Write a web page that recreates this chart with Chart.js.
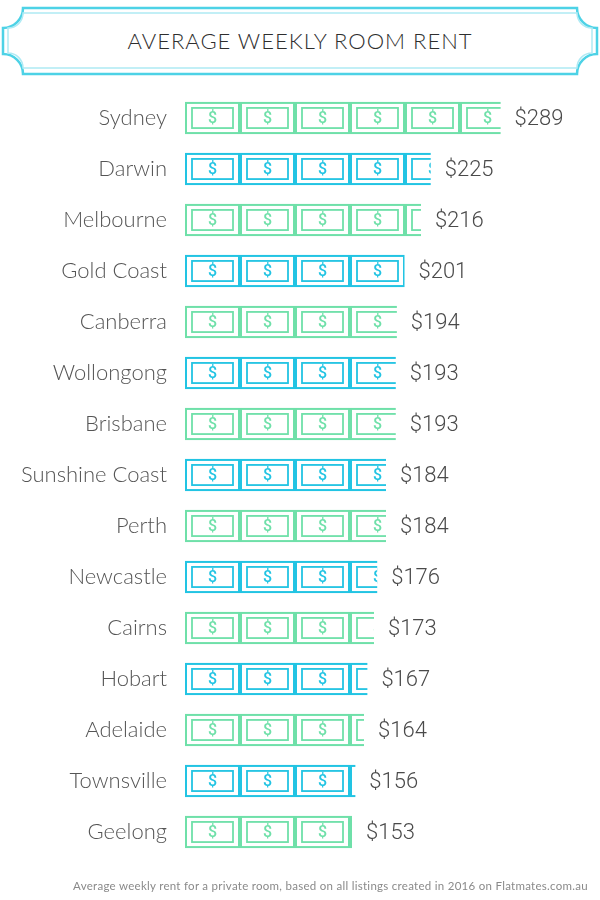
<!DOCTYPE html>
<html>
<head>
<meta charset="utf-8">
<script src="https://cdn.jsdelivr.net/npm/chart.js@4"></script>
<style>
  body { margin: 0; background: #fff; }
  #wrap { position: relative; width: 600px; height: 900px; }
  #frame { position: absolute; left: 0; top: 0; }
  #titulo {
    position: absolute; left: 0; top: 27px; width: 600px; text-align: center;
    font-family: Lato, sans-serif; font-weight: 300; font-size: 22px;
    letter-spacing: 1px; color: #2e2e2e;
  }
  #pie {
    position: absolute; right: 12px; top: 879px;
    font-family: Lato, sans-serif; font-size: 11.5px; color: #8a8a8a; letter-spacing: 0.28px;
  }
  #grafica { position: absolute; left: 0; top: 0; }
</style>
</head>
<body>
<div id="wrap">
  <svg id="frame" width="600" height="80">
    <path d="M23,8 H577 A20,20 0 0 0 597,28 V54 A20,20 0 0 0 577,74 H23 A20,20 0 0 0 3,54 V28 A20,20 0 0 0 23,8 Z"
          fill="none" stroke="#4dd2e6" stroke-width="2.5"/>
    <path d="M23,13 H577 A15,15 0 0 0 592,28 V53 A15,15 0 0 0 577,68 H23 A15,15 0 0 0 8,53 V28 A15,15 0 0 0 23,13 Z"
          fill="none" stroke="#aeeaf4" stroke-width="1.5"/>
  </svg>
  <div id="titulo">AVERAGE WEEKLY ROOM RENT</div>
  <div style="position:absolute;left:0;top:0;width:600px;height:900px;">
    <canvas id="grafica"></canvas>
  </div>
  <div id="pie">Average weekly rent for a private room, based on all listings created in 2016 on Flatmates.com.au</div>
</div>

<script>
// Datos
const ciudades = ['Sydney', 'Darwin', 'Melbourne', 'Gold Coast', 'Canberra', 'Wollongong', 'Brisbane',
  'Sunshine Coast', 'Perth', 'Newcastle', 'Cairns', 'Hobart', 'Adelaide', 'Townsville', 'Geelong'];
const rentas = [289, 225, 216, 201, 194, 193, 193, 184, 184, 176, 173, 167, 164, 156, 153];

const VERDE = '#6fe0a9';
const AZUL = '#22c4e3';
const ANCHO_BILLETE = 55;

// Dibuja un billete en la posicion dada
function dibujarBillete(ctx, x, y, w, h, color) {
  ctx.strokeStyle = color;
  ctx.lineWidth = 2;
  ctx.strokeRect(x + 1, y + 1, w - 2, h - 2);
  ctx.lineWidth = 1.8;
  ctx.strokeRect(x + 7, y + 6, w - 14, h - 12);
  ctx.fillStyle = color;
  ctx.font = '500 16px Roboto';
  ctx.textAlign = 'center';
  ctx.textBaseline = 'middle';
  ctx.fillText('$', x + w / 2, y + h / 2 + 1);
}

const pluginBilletes = {
  id: 'billetes',
  afterDatasetsDraw(chart) {
    const ctx = chart.ctx;
    chart.getDatasetMeta(0).data.forEach((barra, i) => {
      const { x, y, base, height } = barra.getProps(['x', 'y', 'base', 'height'], true);
      const color = i % 2 === 0 ? VERDE : AZUL;
      const arriba = y - height / 2;
      ctx.save();
      ctx.beginPath();
      ctx.rect(base, arriba - 2, x - base, height + 4);
      ctx.clip();
      for (let bx = base; bx < x; bx += ANCHO_BILLETE) {
        dibujarBillete(ctx, bx, arriba, ANCHO_BILLETE, height, color);
      }
      ctx.restore();

      // etiqueta de valor
      ctx.save();
      ctx.fillStyle = '#4a4a4a';
      ctx.font = '300 22px Roboto';
      ctx.textAlign = 'left';
      ctx.textBaseline = 'middle';
      ctx.fillText('$' + rentas[i], x + 14, y + 1);
      ctx.restore();
    });
  }
};

const ctx = document.getElementById('grafica').getContext('2d');
new Chart(ctx, {
  type: 'bar',
  data: {
    labels: ciudades,
    datasets: [{
      data: rentas,
      backgroundColor: 'rgba(0,0,0,0)',
      borderWidth: 0,
      barPercentage: 0.63,
      categoryPercentage: 1
    }]
  },
  options: {
    indexAxis: 'y',
    responsive: true,
    maintainAspectRatio: false,
    animation: false,
    layout: { padding: { top: 92.5, bottom: 42.5, left: 0, right: 0 } },
    plugins: {
      legend: { display: false },
      tooltip: { enabled: false }
    },
    scales: {
      x: { display: false, min: 0, max: 380 },
      y: {
        afterFit(scale) { scale.width = 185; },
        grid: { display: false, drawTicks: false },
        border: { display: false },
        ticks: {
          padding: 18,
          color: '#555',
          font: { family: 'Lato', size: 22, weight: 300 }
        }
      }
    }
  },
  plugins: [pluginBilletes]
});
</script>
</body>
</html>
